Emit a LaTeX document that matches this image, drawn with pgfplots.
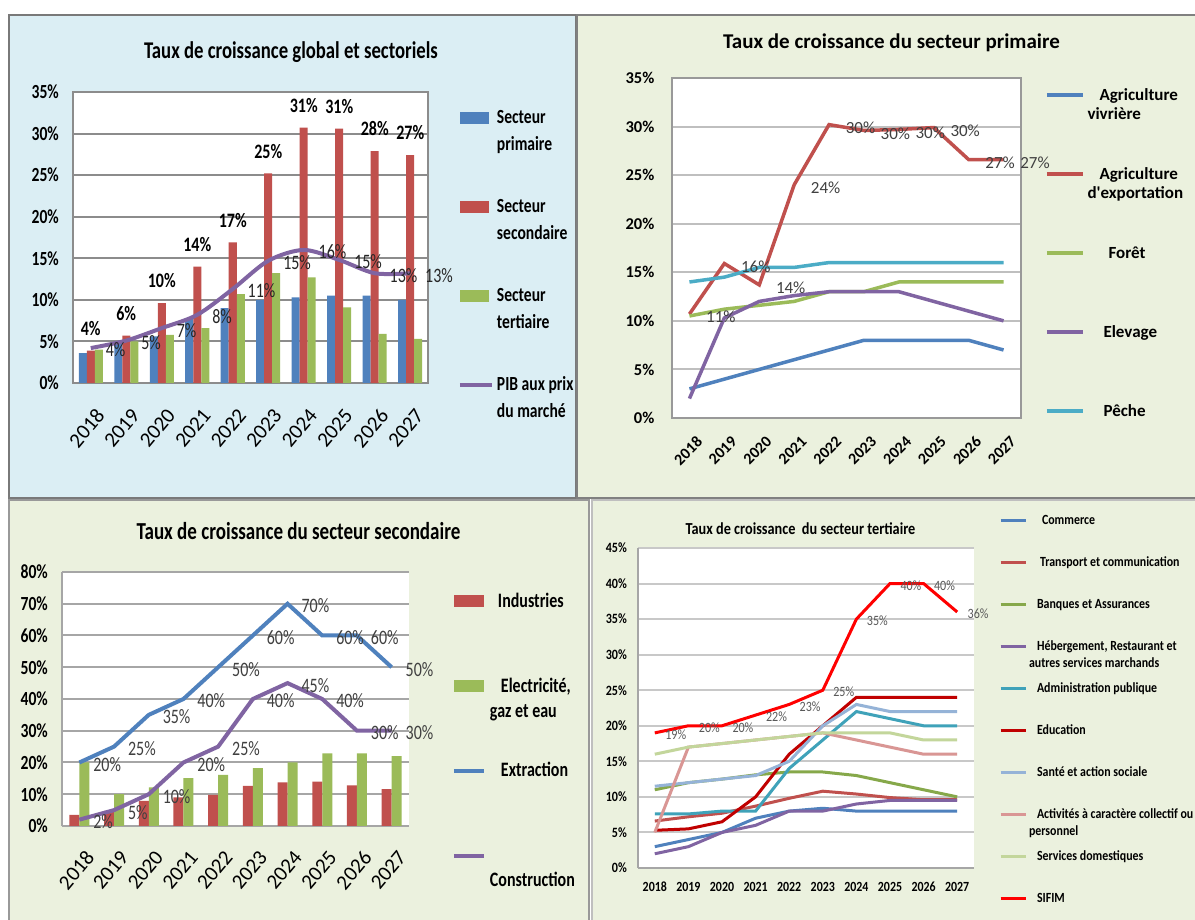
\documentclass[border=0pt]{standalone}
\usepackage{pgfplots}
\pgfplotsset{compat=1.18}
\usepackage{fontspec}
\setmainfont{Carlito}
\newfontfamily\cA[FakeStretch=0.78]{Carlito}
\newfontfamily\cD[FakeStretch=0.85]{Carlito}
\newfontfamily\cN[Ligatures=TeXOff]{Carlito}
\definecolor{xBlue}{HTML}{4F81BD}
\definecolor{xRed}{HTML}{C0504D}
\definecolor{xGreen}{HTML}{9BBB59}
\definecolor{xPurple}{HTML}{8064A2}
\definecolor{xAqua}{HTML}{4BACC6}
\definecolor{bgBlue}{HTML}{DBEEF4}
\definecolor{bgGreen}{HTML}{EBF1DE}
\definecolor{lblGray}{HTML}{404040}
\definecolor{lblGrayB}{HTML}{595959}
\definecolor{cBanq}{HTML}{86A84A}
\definecolor{cAdm}{HTML}{3FA2B9}
\definecolor{cEdu}{HTML}{C00000}
\definecolor{cSan}{HTML}{95B3D7}
\definecolor{cAct}{HTML}{D99694}
\definecolor{cSer}{HTML}{C3D69B}
\definecolor{cSif}{HTML}{FF0000}
\definecolor{pAgrid}{HTML}{8C8C8C}
\definecolor{pBgrid}{HTML}{BFBFBF}
\definecolor{pBaxis}{HTML}{999999}
\definecolor{pCgrid}{HTML}{A6A6A6}
\definecolor{pDgrid}{HTML}{C8C8C8}
\definecolor{pDaxis}{HTML}{A6A6A6}
\newcommand{\fs}[1]{\fontsize{#1}{#1}\selectfont}
\pgfplotsset{/pgf/number format/assume math mode=true}
\begin{document}
\begin{tikzpicture}[x=1pt,y=1pt]
\useasboundingbox (0,0) rectangle (1195,920);
\fill[white] (0,0) rectangle (1195,920);
% panel backgrounds
\filldraw[fill=bgBlue, draw=gray!95!black, line width=2pt] (9,422) rectangle (576,905);
\filldraw[fill=bgGreen, draw=gray, line width=2pt] (577,422) rectangle (1198,905);
\filldraw[fill=bgGreen, draw=gray!80, line width=2pt] (9,-3) rectangle (589,420);
\filldraw[fill=bgGreen, draw=gray!50, line width=1.5pt] (592,-3) rectangle (1198,420);
% titles
\node[anchor=base, font=\cA\bfseries\fs{24}] at (291,861.7) {Taux de croissance global et sectoriels};
\node[anchor=base, font=\bfseries\fs{21}] at (891.5,871.7) {Taux de croissance du secteur primaire};
\node[anchor=base, font=\cA\bfseries\fs{24.4}] at (298.5,380.7) {Taux de croissance du secteur secondaire};
\node[anchor=base, font=\cD\bfseries\fs{16.8}] at (800.5,385.7) {Taux de croissance \ du secteur tertiaire};

%================ PANEL 1 ================
\begin{axis}[
  at={(73pt,537pt)}, anchor=south west, scale only axis,
  width=355pt, height=291pt,
  xmin=-0.5, xmax=9.5, ymin=0, ymax=35,
  xtick={0,...,9}, xticklabels={2018,2019,2020,2021,2022,2023,2024,2025,2026,2027},
  ytick={0,5,...,35}, yticklabels={0\%,5\%,10\%,15\%,20\%,25\%,30\%,35\%},
  major tick length=0pt,
  ymajorgrids, grid style={draw=pAgrid, line width=2pt},
  axis line style={draw=pAgrid, line width=2pt},
  axis background/.style={fill=white},
  yticklabel style={font=\cA\bfseries\fs{20}, anchor=east, inner sep=0pt, xshift=-14pt},
  xticklabel style={font=\fs{21}, inner sep=0pt, xshift=4pt, yshift=-24pt, rotate=50, anchor=north east},
  clip=false,
  legend cell align=left,
  legend style={at={(1.0845,0.9617)}, anchor=north west, draw=none, fill=none,
    inner sep=0pt, outer sep=0pt, row sep=0pt, column sep=3pt,
    font=\cA\bfseries\fs{20},
    nodes={inner sep=0pt, text height=20.5pt, text depth=9.2pt}},
]
\addplot[ybar, bar width=8pt, bar shift=-8pt, fill=xBlue, draw=none,
  legend image code/.code={\fill[xBlue] (0pt,-6pt) rectangle (29pt,6pt);}]
  coordinates {(0,3.6) (1,5.0) (2,5.6) (3,7.8) (4,9.0) (5,10.0) (6,10.3) (7,10.5) (8,10.5) (9,10.0)};
\addlegendentry{Secteur}
\addlegendimage{empty legend}\addlegendentry{\raisebox{2.7pt}{primaire}}
\addlegendimage{empty legend}\addlegendentry{\mbox{}}
\addplot[ybar, bar width=8pt, bar shift=0pt, fill=xRed, draw=none,
  nodes near coords, point meta=explicit symbolic,
  every node near coord/.append style={font=\cA\bfseries\fs{20.5}, anchor=south, inner sep=0pt, yshift=15pt, text=black},
  legend image code/.code={\fill[xRed] (0pt,-6pt) rectangle (29pt,6pt);}]
  coordinates {(0,3.9)[4\%] (1,5.7)[6\%] (2,9.6)[10\%] (3,14.0)[14\%] (4,16.9)[17\%] (5,25.2)[25\%] (6,30.7)[31\%] (7,30.6)[31\%] (8,27.9)[28\%] (9,27.4)[27\%]};
\addlegendentry{Secteur}
\addlegendimage{empty legend}\addlegendentry{\raisebox{2.7pt}{secondaire}}
\addlegendimage{empty legend}\addlegendentry{\mbox{}}
\addplot[ybar, bar width=8pt, bar shift=8pt, fill=xGreen, draw=none,
  legend image code/.code={\fill[xGreen] (0pt,-6pt) rectangle (29pt,6pt);}]
  coordinates {(0,4.0) (1,5.0) (2,5.8) (3,6.6) (4,10.7) (5,13.2) (6,12.7) (7,9.1) (8,5.9) (9,5.3)};
\addlegendentry{Secteur}
\addlegendimage{empty legend}\addlegendentry{\raisebox{2.7pt}{tertiaire}}
\addlegendimage{empty legend}\addlegendentry{\mbox{}}
\addplot[xPurple, line width=4pt, smooth,
  nodes near coords, point meta=explicit symbolic,
  every node near coord/.append style={font=\cA\fs{20.5}, anchor=west, inner sep=0pt, xshift=13pt, yshift=-2pt, text=black!85},
  legend image code/.code={\draw[xPurple, line width=4pt] (0pt,0pt) -- (32pt,0pt);}]
  coordinates {(0,4.2)[4\%] (1,5.1)[5\%] (2,6.6)[7\%] (3,8.2)[8\%] (4,11.3)[11\%] (5,14.7)[15\%] (6,16.0)[16\%] (7,14.8)[15\%] (8,13.2)[13\%] (9,13.2)[13\%]};
\addlegendentry{PIB aux prix}
\addlegendimage{empty legend}\addlegendentry{\raisebox{2.7pt}{du marché}}
\end{axis}

%================ PANEL 2 ================
\begin{axis}[
  at={(672pt,502pt)}, anchor=south west, scale only axis,
  width=349pt, height=340pt,
  xmin=-0.5, xmax=9.5, ymin=0, ymax=35,
  xtick={0,...,9}, xticklabels={2018,2019,2020,2021,2022,2023,2024,2025,2026,2027},
  ytick={0,5,...,35}, yticklabels={0\%,5\%,10\%,15\%,20\%,25\%,30\%,35\%},
  major tick length=0pt,
  ymajorgrids, grid style={draw=pBgrid, line width=2pt},
  axis line style={draw=pBaxis, line width=1.5pt},
  axis background/.style={fill=white},
  yticklabel style={font=\bfseries\fs{16.5}, anchor=east, inner sep=0pt, xshift=-17.5pt},
  xticklabel style={font=\bfseries\fs{16}, inner sep=0pt, xshift=6pt, yshift=-17pt, rotate=45, anchor=north east},
  clip=false,
  legend cell align=left,
  legend style={at={(1.0688,0.979)}, anchor=north west, draw=none, fill=none,
    inner sep=0pt, outer sep=0pt, row sep=0pt, column sep=3pt,
    font=\bfseries\fs{17},
    nodes={inner sep=0pt, text height=14.975pt, text depth=4.775pt}},
]
\addplot[xBlue, line width=3.5pt,
  legend image code/.code={\draw[xBlue, line width=3.5pt] (0pt,0pt) -- (36pt,0pt);}]
  coordinates {(0,3) (1,4) (2,5) (3,6) (4,7) (5,8) (6,8) (7,8) (8,8) (9,7)};
\addlegendentry{\hspace{12pt}Agriculture}
\addlegendimage{empty legend}\addlegendentry{vivrière}
\addlegendimage{empty legend}\addlegendentry{\mbox{}}
\addlegendimage{empty legend}\addlegendentry{\mbox{}}
\addplot[xRed, line width=3.5pt,
  nodes near coords, point meta=explicit symbolic,
  every node near coord/.append style={font=\fs{17}, anchor=west, inner sep=0pt, xshift=15pt, yshift=-3pt, text=lblGray},
  legend image code/.code={\draw[xRed, line width=3.5pt] (0pt,0pt) -- (36pt,0pt);}]
  coordinates {(0,10.7)[11\%] (1,15.9)[16\%] (2,13.7)[14\%] (3,24.0)[24\%] (4,30.2)[30\%] (5,29.6)[30\%] (6,29.7)[30\%] (7,29.9)[30\%] (8,26.6)[27\%] (9,26.6)[27\%]};
\addlegendentry{\hspace{12pt}Agriculture}
\addlegendimage{empty legend}\addlegendentry{{\cN\bfseries d'exportation}}
\addlegendimage{empty legend}\addlegendentry{\mbox{}}
\addlegendimage{empty legend}\addlegendentry{\mbox{}}
\addplot[xGreen, line width=3.5pt,
  legend image code/.code={\draw[xGreen, line width=3.5pt] (0pt,0pt) -- (36pt,0pt);}]
  coordinates {(0,10.5) (1,11.2) (2,11.6) (3,12.0) (4,13.0) (5,13.0) (6,14.0) (7,14.0) (8,14.0) (9,14.0)};
\addlegendentry{\hspace{21pt}Forêt}
\addlegendimage{empty legend}\addlegendentry{\mbox{}}
\addlegendimage{empty legend}\addlegendentry{\mbox{}}
\addlegendimage{empty legend}\addlegendentry{\mbox{}}
\addplot[xPurple, line width=3.5pt,
  legend image code/.code={\draw[xPurple, line width=3.5pt] (0pt,0pt) -- (36pt,0pt);}]
  coordinates {(0,2.0) (1,10.3) (2,12.0) (3,12.6) (4,13.0) (5,13.0) (6,13.0) (7,12.0) (8,11.0) (9,10.0)};
\addlegendentry{\hspace{16pt}Elevage}
\addlegendimage{empty legend}\addlegendentry{\mbox{}}
\addlegendimage{empty legend}\addlegendentry{\mbox{}}
\addlegendimage{empty legend}\addlegendentry{\mbox{}}
\addplot[xAqua, line width=3.5pt,
  legend image code/.code={\draw[xAqua, line width=3.5pt] (0pt,0pt) -- (36pt,0pt);}]
  coordinates {(0,14.0) (1,14.5) (2,15.5) (3,15.5) (4,16.0) (5,16.0) (6,16.0) (7,16.0) (8,16.0) (9,16.0)};
\addlegendentry{\hspace{16pt}Pêche}
\end{axis}

%================ PANEL 3 ================
\begin{axis}[
  at={(62pt,94pt)}, anchor=south west, scale only axis,
  width=347pt, height=254pt,
  xmin=-0.5, xmax=9.5, ymin=0, ymax=80,
  xtick={0,...,9}, xticklabels={2018,2019,2020,2021,2022,2023,2024,2025,2026,2027},
  ytick={0,10,...,80}, yticklabels={0\%,10\%,20\%,30\%,40\%,50\%,60\%,70\%,80\%},
  major tick length=0pt,
  axis x line*=bottom, axis y line*=left,
  ymajorgrids, grid style={draw=pCgrid, line width=2pt},
  axis line style={draw=pCgrid, line width=2pt, -},
  axis background/.style={fill=white},
  yticklabel style={font=\cA\bfseries\fs{20}, anchor=east, inner sep=0pt, xshift=-14pt},
  xticklabel style={font=\fs{21}, inner sep=0pt, xshift=5pt, yshift=-23pt, rotate=50, anchor=north east},
  clip=false,
  legend cell align=left,
  legend style={at={(1.1239,0.9415)}, anchor=north west, draw=none, fill=none,
    inner sep=0pt, outer sep=0pt, row sep=0pt, column sep=4pt,
    font=\cA\bfseries\fs{20.5},
    nodes={inner sep=0pt, text height=20.3pt, text depth=8.0pt}},
]
\addplot[ybar, bar width=10pt, bar shift=-5pt, fill=xRed, draw=none,
  legend image code/.code={\fill[xRed] (0pt,-6pt) rectangle (30pt,6pt);}]
  coordinates {(0,3.5) (1,4.8) (2,7.9) (3,9.0) (4,9.8) (5,12.6) (6,13.7) (7,14.0) (8,12.8) (9,11.6)};
\addlegendentry{\hspace{8pt}Industries}
\addlegendimage{empty legend}\addlegendentry{\mbox{}}
\addlegendimage{empty legend}\addlegendentry{\mbox{}}
\addplot[ybar, bar width=10pt, bar shift=5pt, fill=xGreen, draw=none,
  legend image code/.code={\fill[xGreen] (0pt,-6pt) rectangle (30pt,6pt);}]
  coordinates {(0,20.0) (1,10.0) (2,12.2) (3,15.1) (4,16.1) (5,18.2) (6,20.0) (7,22.9) (8,22.9) (9,22.0)};
\addlegendentry{\hspace{11pt}Electricité,}
\addlegendimage{empty legend}\addlegendentry{\raisebox{3.3pt}{gaz et eau}}
\addlegendimage{empty legend}\addlegendentry{\mbox{}}
\addplot[xBlue, line width=4pt,
  nodes near coords, point meta=explicit symbolic,
  every node near coord/.append style={font=\cA\fs{20.5}, anchor=west, inner sep=0pt, xshift=12pt, yshift=-2pt, text=lblGray},
  legend image code/.code={\draw[xBlue, line width=4pt] (0pt,0pt) -- (30pt,0pt);}]
  coordinates {(0,20)[20\%] (1,25)[25\%] (2,35)[35\%] (3,40)[40\%] (4,50)[50\%] (5,60)[60\%] (6,70)[70\%] (7,60)[60\%] (8,60)[60\%] (9,50)[50\%]};
\addlegendentry{\hspace{11pt}Extraction}
\addlegendimage{empty legend}\addlegendentry{\mbox{}}
\addlegendimage{empty legend}\addlegendentry{\mbox{}}
\addplot[xPurple, line width=4pt,
  nodes near coords, point meta=explicit symbolic,
  every node near coord/.append style={font=\cA\fs{20.5}, anchor=west, inner sep=0pt, xshift=12pt, yshift=-2pt, text=lblGray},
  legend image code/.code={\draw[xPurple, line width=4pt] (0pt,0pt) -- (30pt,0pt);}]
  coordinates {(0,2)[2\%] (1,5)[5\%] (2,10)[10\%] (3,20)[20\%] (4,25)[25\%] (5,40)[40\%] (6,45)[45\%] (7,40)[40\%] (8,30)[30\%] (9,30)[30\%]};
\addlegendentry{\mbox{}}
\addlegendimage{empty legend}\addlegendentry{\raisebox{4pt}{Construction}}
\end{axis}

%================ PANEL 4 ================
\begin{axis}[
  at={(638pt,52pt)}, anchor=south west, scale only axis,
  width=336pt, height=320pt,
  xmin=-0.5, xmax=9.5, ymin=0, ymax=45,
  xtick={0,...,9}, xticklabels={2018,2019,2020,2021,2022,2023,2024,2025,2026,2027},
  ytick={0,5,...,45}, yticklabels={0\%,5\%,10\%,15\%,20\%,25\%,30\%,35\%,40\%,45\%},
  major tick length=0pt,
  axis x line*=bottom, axis y line*=left,
  ymajorgrids, grid style={draw=pDgrid, line width=2pt},
  axis line style={draw=pDaxis, line width=1.5pt, -},
  axis background/.style={fill=white},
  yticklabel style={font=\cD\bfseries\fs{14.2}, anchor=east, inner sep=0pt, xshift=-11pt},
  xticklabel style={font=\cD\bfseries\fs{14}, anchor=north, inner sep=0pt, yshift=-14pt},
  clip=false,
  legend cell align=left,
  legend style={at={(1.0744,1.1203)}, anchor=north west, draw=none, fill=none,
    inner sep=0pt, outer sep=0pt, row sep=0pt, column sep=2pt,
    font=\cD\bfseries\fs{14},
    nodes={inner sep=0pt, text height=14.7pt, text depth=6.3pt}},
]
\addplot[xBlue, line width=3pt,
  legend image code/.code={\draw[xBlue, line width=3pt] (0pt,0pt) -- (25pt,0pt);}]
  coordinates {(0,3.0) (1,4.0) (2,5.0) (3,7.0) (4,8.0) (5,8.4) (6,8.0) (7,8.0) (8,8.0) (9,8.0)};
\addlegendentry{\hspace{13pt}Commerce}
\addlegendimage{empty legend}\addlegendentry{\mbox{}}
\addplot[xRed, line width=3pt,
  legend image code/.code={\draw[xRed, line width=3pt] (0pt,0pt) -- (25pt,0pt);}]
  coordinates {(0,6.6) (1,7.2) (2,7.7) (3,8.7) (4,9.8) (5,10.8) (6,10.4) (7,9.9) (8,9.6) (9,9.6)};
\addlegendentry{\hspace{11pt}Transport et communication}
\addlegendimage{empty legend}\addlegendentry{\mbox{}}
\addplot[cBanq, line width=3pt,
  legend image code/.code={\draw[cBanq, line width=3pt] (0pt,0pt) -- (25pt,0pt);}]
  coordinates {(0,11.0) (1,12.0) (2,12.5) (3,13.1) (4,13.5) (5,13.5) (6,13.0) (7,12.0) (8,11.0) (9,10.0)};
\addlegendentry{\hspace{8pt}Banques et Assurances}
\addlegendimage{empty legend}\addlegendentry{\mbox{}}
\addplot[xPurple, line width=3pt,
  legend image code/.code={\draw[xPurple, line width=3pt] (0pt,0pt) -- (25pt,0pt);}]
  coordinates {(0,2.0) (1,3.0) (2,5.0) (3,6.0) (4,8.0) (5,8.0) (6,9.0) (7,9.5) (8,9.5) (9,9.5)};
\addlegendentry{\hspace{8pt}Hébergement, Restaurant et}
\addlegendimage{empty legend}\addlegendentry{\raisebox{4pt}{autres services marchands}}
\addplot[cAdm, line width=3pt,
  legend image code/.code={\draw[cAdm, line width=3pt] (0pt,0pt) -- (25pt,0pt);}]
  coordinates {(0,7.6) (1,7.6) (2,8.0) (3,8.0) (4,14.0) (5,18.0) (6,22.0) (7,21.0) (8,20.0) (9,20.0)};
\addlegendentry{\hspace{8pt}Administration publique}
\addlegendimage{empty legend}\addlegendentry{\mbox{}}
\addplot[cEdu, line width=3pt,
  legend image code/.code={\draw[cEdu, line width=3pt] (0pt,0pt) -- (25pt,0pt);}]
  coordinates {(0,5.3) (1,5.5) (2,6.5) (3,10.0) (4,16.0) (5,20.0) (6,24.0) (7,24.0) (8,24.0) (9,24.0)};
\addlegendentry{\hspace{8pt}Education}
\addlegendimage{empty legend}\addlegendentry{\mbox{}}
\addplot[cSan, line width=3pt,
  legend image code/.code={\draw[cSan, line width=3pt] (0pt,0pt) -- (25pt,0pt);}]
  coordinates {(0,11.5) (1,12.0) (2,12.5) (3,13.0) (4,15.0) (5,20.0) (6,23.0) (7,22.0) (8,22.0) (9,22.0)};
\addlegendentry{\hspace{8pt}Santé et action sociale}
\addlegendimage{empty legend}\addlegendentry{\mbox{}}
\addplot[cAct, line width=3pt,
  legend image code/.code={\draw[cAct, line width=3pt] (0pt,0pt) -- (25pt,0pt);}]
  coordinates {(0,5.0) (1,17.0) (2,17.5) (3,18.0) (4,18.5) (5,19.0) (6,18.0) (7,17.0) (8,16.0) (9,16.0)};
\addlegendentry{\hspace{8pt}Activités à caractère collectif ou}
\addlegendimage{empty legend}\addlegendentry{\raisebox{4pt}{personnel}}
\addplot[cSer, line width=3pt,
  legend image code/.code={\draw[cSer, line width=3pt] (0pt,0pt) -- (25pt,0pt);}]
  coordinates {(0,16.0) (1,17.0) (2,17.5) (3,18.0) (4,18.5) (5,19.0) (6,19.0) (7,19.0) (8,18.0) (9,18.0)};
\addlegendentry{\hspace{8pt}Services domestiques}
\addlegendimage{empty legend}\addlegendentry{\mbox{}}
\addplot[cSif, line width=3pt,
  nodes near coords, point meta=explicit symbolic,
  every node near coord/.append style={font=\cD\fs{14.2}, anchor=west, inner sep=0pt, xshift=9pt, yshift=-2pt, text=lblGrayB},
  legend image code/.code={\draw[cSif, line width=3pt] (0pt,0pt) -- (25pt,0pt);}]
  coordinates {(0,19)[19\%] (1,20)[20\%] (2,20)[20\%] (3,21.5)[22\%] (4,23)[23\%] (5,25)[25\%] (6,35)[35\%] (7,40)[40\%] (8,40)[40\%] (9,36)[36\%]};
\addlegendentry{\hspace{8pt}SIFIM}
\end{axis}
\end{tikzpicture}
\end{document}
